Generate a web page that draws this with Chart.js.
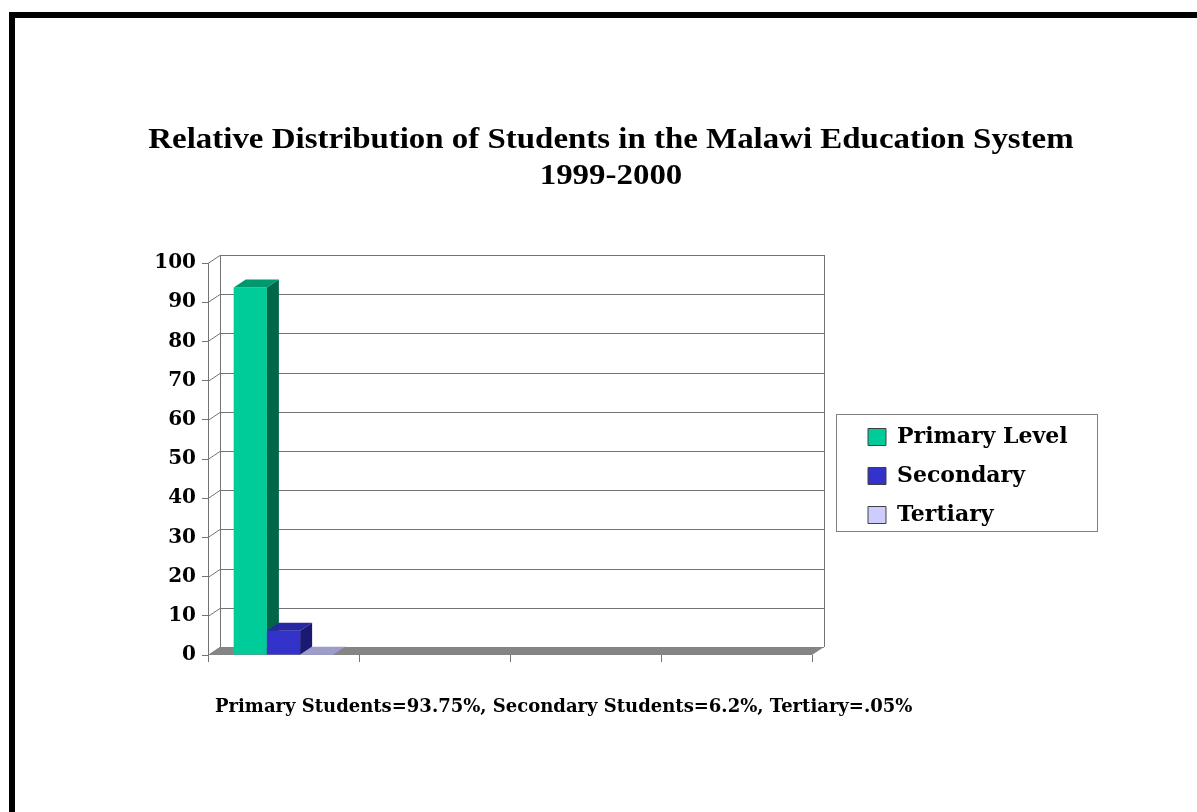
<!DOCTYPE html>
<html>
<head>
<meta charset="utf-8">
<title>Relative Distribution of Students in the Malawi Education System 1999-2000</title>
<script src="https://cdn.jsdelivr.net/npm/chart.js@4.4.1/dist/chart.umd.min.js"></script>
<style>
  body { margin: 0; background: #fff; }
  #page { position: relative; width: 1197px; height: 812px; overflow: hidden; background: #fff; }
  .frame-top { position: absolute; left: 9px; top: 12px; right: 0; height: 6px; background: #000; }
  .frame-left { position: absolute; left: 9px; top: 12px; bottom: 0; width: 6px; background: #000; }
  #title { position: absolute; left: 0; top: 120px; width: 1222px; text-align: center;
           font: bold 29px/36px 'Liberation Serif', 'Times New Roman', serif; color: #000;
           transform: scaleX(1.135); transform-origin: 611px 0; }
  #note { position: absolute; left: 215px; top: 696px; white-space: nowrap;
          font: bold 18px/20px 'DejaVu Serif', serif; color: #000; }
  canvas { position: absolute; left: 0; top: 0; }
</style>
</head>
<body>
<div id="page">
  <div class="frame-top"></div>
  <div class="frame-left"></div>
  <canvas id="chart" width="1197" height="812"></canvas>
  <div id="title">Relative Distribution of Students in the Malawi Education System<br>1999-2000</div>
  <div id="note">Primary Students=93.75%, Secondary Students=6.2%, Tertiary=.05%</div>
</div>
<script>
// data
const categories = ['1999-2000', '', '', ''];
const seriesNames = ['Primary Level', 'Secondary', 'Tertiary'];
const primary = [93.75, null, null, null];
const secondary = [6.2, null, null, null];
const tertiary = [0.05, null, null, null];

// colours: front / top / side of each 3d bar
const frontColors = ['#00CC99', '#3333CC', '#CCCCFF'];
const topColors = ['#00996F', '#2828A3', '#9D9DCC'];
const sideColors = ['#00664A', '#1A1A73', '#7A7A99'];
const DX = 12, DY = -8;   // depth of the 3d box

function poly(ctx, pts, color) {
    ctx.beginPath();
    ctx.moveTo(pts[0][0], pts[0][1]);
    for (let i = 1; i < pts.length; i++) ctx.lineTo(pts[i][0], pts[i][1]);
    ctx.closePath();
    ctx.fillStyle = color;
    ctx.fill();
}

// back wall, floor and the 3d bars
const wall3d = {
    id: 'wall3d',
    beforeDatasetsDraw(chart) {
        const { ctx, chartArea: a, scales: { y } } = chart;
        const top = y.getPixelForValue(100), bottom = y.getPixelForValue(0);
        ctx.save();
        ctx.strokeStyle = '#737373';
        ctx.lineWidth = 1;
        y.ticks.forEach(t => {
            const py = Math.round(y.getPixelForValue(t.value)) + 0.5;
            ctx.beginPath();
            ctx.moveTo(a.left, py);
            ctx.lineTo(a.left + DX, py + DY);
            ctx.lineTo(a.right + DX, py + DY);
            ctx.stroke();
        });
        ctx.beginPath();
        ctx.moveTo(a.left + DX + 0.5, top + DY);
        ctx.lineTo(a.left + DX + 0.5, bottom + DY);
        ctx.moveTo(a.right + DX + 0.5, top + DY);
        ctx.lineTo(a.right + DX + 0.5, bottom + DY);
        ctx.stroke();
        // floor
        poly(ctx, [[a.left, bottom], [a.left + DX, bottom + DY], [a.right + DX, bottom + DY], [a.right, bottom]], '#858585');

        chart.data.datasets.forEach((ds, di) => {
            const meta = chart.getDatasetMeta(di);
            meta.data.forEach((bar, i) => {
                if (ds.data[i] == null) return;
                const { x, y: yt, base, width } = bar.getProps(['x', 'y', 'base', 'width'], true);
                const l = x - width / 2, r = x + width / 2;
                ctx.fillStyle = frontColors[di];
                ctx.fillRect(l, yt, width, base - yt);
                poly(ctx, [[l, yt], [l + DX, yt + DY], [r + DX, yt + DY], [r, yt]], topColors[di]);
                poly(ctx, [[r, yt], [r + DX, yt + DY], [r + DX, base + DY], [r, base]], sideColors[di]);
            });
        });
        ctx.restore();
        return false;
    }
};

// move the legend next to the plot and put a frame round it
const legendBox = {
    id: 'legendBox',
    afterLayout(chart) {
        const lg = chart.legend;
        lg.left = 851;
        lg.right = 1100;
        lg.width = 249;
        lg.top += 17;
        lg.bottom += 17;
    },
    afterDraw(chart) {
        const { ctx } = chart;
        const lg = chart.legend;
        const midY = (lg.top + lg.bottom) / 2;
        ctx.save();
        ctx.strokeStyle = '#808080';
        ctx.lineWidth = 1;
        ctx.strokeRect(836.5, Math.round(midY - 62) + 0.5, 261, 117);
        ctx.restore();
    }
};

const serif = { family: "'DejaVu Serif', serif", weight: 'bold' };

new Chart(document.getElementById('chart'), {
    type: 'bar',
    data: {
        labels: categories,
        datasets: [primary, secondary, tertiary].map((d, i) => ({
            label: seriesNames[i],
            data: d,
            backgroundColor: frontColors[i],
            borderColor: '#404040',
            borderWidth: 1,
            categoryPercentage: 0.66,
            barPercentage: 1
        }))
    },
    options: {
        responsive: false,
        animation: false,
        layout: { padding: { top: 263, bottom: 147, left: 148, right: 235 } },
        scales: {
            x: {
                grid: { drawOnChartArea: false, tickLength: 7, color: '#737373' },
                border: { display: false },
                ticks: { display: false },
                afterFit: s => { s.height = 10; }
            },
            y: {
                min: 0,
                max: 100,
                ticks: { stepSize: 10, color: '#000', padding: 6, font: { ...serif, size: 20 } },
                grid: { drawOnChartArea: false, tickLength: 6, color: '#737373' },
                border: { color: '#737373' },
                afterFit: s => { s.width = 60; }
            }
        },
        plugins: {
            legend: {
                position: 'right',
                fullSize: false,
                maxWidth: 150,
                labels: { boxWidth: 18, boxHeight: 17, padding: 17, color: '#000', font: { ...serif, size: 22 } }
            },
            tooltip: { enabled: false }
        }
    },
    plugins: [wall3d, legendBox]
});
</script>
</body>
</html>
